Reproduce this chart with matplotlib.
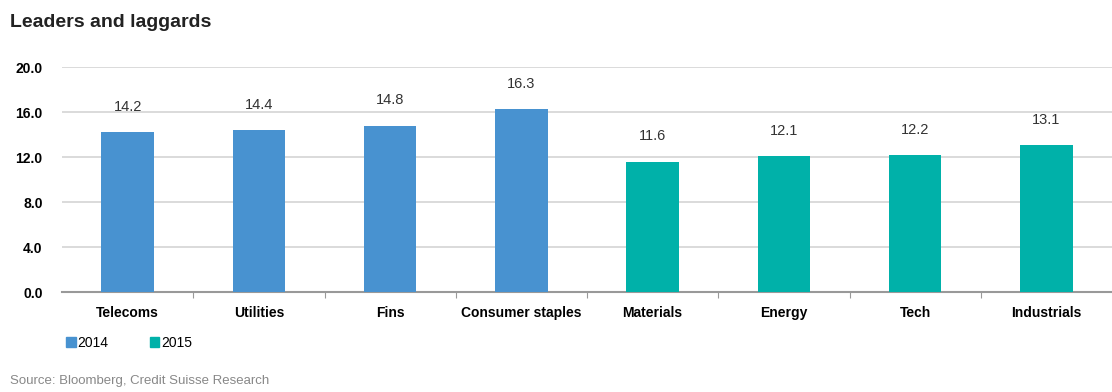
import matplotlib.pyplot as plt
from matplotlib.patches import Patch

sectors = ['Telecoms', 'Utilities', 'Fins', 'Consumer staples',
           'Materials', 'Energy', 'Tech', 'Industrials']
values = [14.2, 14.4, 14.8, 16.3, 11.6, 12.1, 12.2, 13.1]
years = ['2014', '2014', '2014', '2014', '2015', '2015', '2015', '2015']
yticks = [0.0, 4.0, 8.0, 12.0, 16.0, 20.0]

colours = {'2014': '#4892d0', '2015': '#00b1a9'}

plt.rcParams['font.family'] = ['Liberation Sans', 'DejaVu Sans']

fig = plt.figure(figsize=(11.12, 3.92), dpi=100)
ax = fig.add_axes([0.0558, 0.255, 0.9442, 0.574])

x = range(len(sectors))
ax.bar(x, values, width=0.4, color=[colours[y] for y in years], zorder=3)
for i, v in zip(x, values):
    ax.annotate(f'{v:.1f}', (i, v), xytext=(0, 13), textcoords='offset points',
                ha='center', va='bottom', fontsize=10.5, color='#333333')

ax.set_xlim(-0.5, len(sectors) - 0.5)
ax.set_ylim(0, 20)
ax.set_yticks(yticks)
ax.set_yticklabels([f'{t:.1f}' for t in yticks], fontsize=10, fontweight='bold')
ax.set_xticks([i + 0.5 for i in x][:-1])
ax.set_xticklabels([])
ax.set_xticks(list(x), minor=True)
ax.set_xticklabels(sectors, minor=True, fontsize=10, fontweight='bold')
ax.tick_params(axis='x', which='major', length=4, color='#999999', direction='out')
ax.tick_params(axis='x', which='minor', length=0, pad=10)
ax.tick_params(axis='y', length=0, pad=14)

ax.grid(axis='y', color='#d4d4d4', linewidth=1.2, zorder=0)
for side in ['top', 'right', 'left']:
    ax.spines[side].set_visible(False)
ax.spines['bottom'].set_color('#999999')
ax.spines['bottom'].set_linewidth(1.5)

fig.text(0.009, 0.943, 'Leaders and laggards', fontsize=14, fontweight='bold',
         color='#222222', va='center')

handles = [Patch(color=colours['2014'], label='2014'),
           Patch(color=colours['2015'], label='2015')]
fig.legend(handles=handles, loc='center left', bbox_to_anchor=(0.048, 0.125),
           ncol=2, frameon=False, fontsize=10, handlelength=0.7, handleheight=0.7,
           handletextpad=0.1, columnspacing=3.0)

fig.text(0.009, 0.028, 'Source: Bloomberg, Credit Suisse Research', fontsize=9.5,
         color='#888888', va='center')

fig.savefig('out.png', dpi=100)
